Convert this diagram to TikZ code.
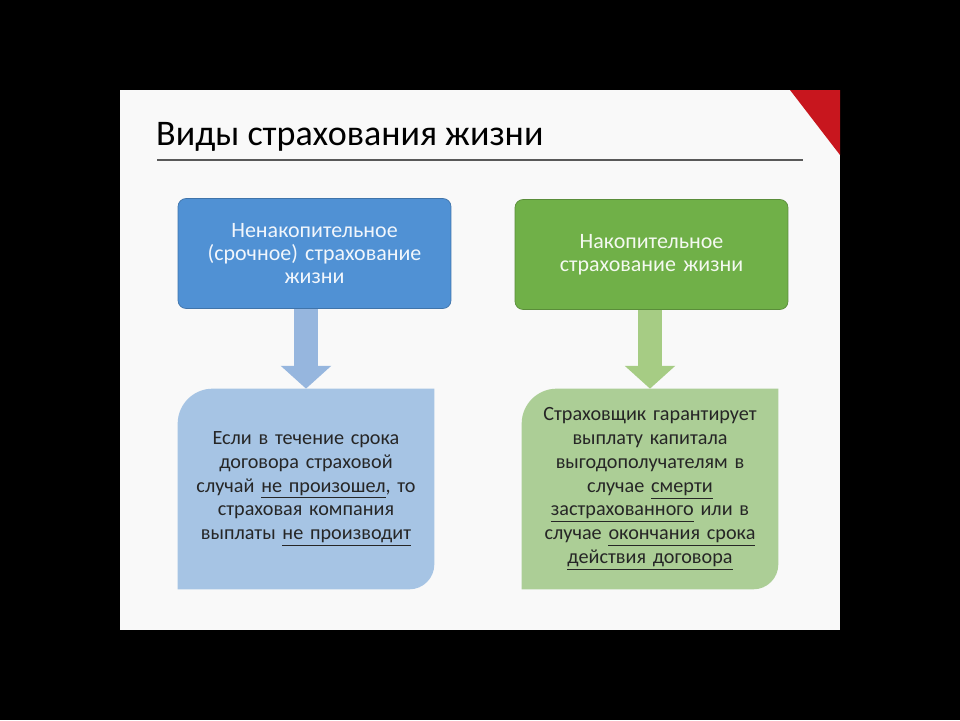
\documentclass[tikz,border=0pt]{standalone}
\usepackage{fontspec}
\setmainfont{Carlito}
\usetikzlibrary{arrows.meta,backgrounds}
\definecolor{hdrblue}{RGB}{80,145,212}
\definecolor{hdrgreen}{RGB}{112,176,72}
\definecolor{lowblue}{RGB}{166,196,228}
\definecolor{lowgreen}{RGB}{172,206,150}
\definecolor{arrblue}{RGB}{150,182,222}
\definecolor{arrgreen}{RGB}{166,204,132}
\definecolor{slidered}{RGB}{200,22,30}
\definecolor{slidebg}{RGB}{249,249,249}
\definecolor{textdark}{RGB}{38,38,38}
\begin{document}
\begin{tikzpicture}[
  % GLOBAL CFG
  x=0.02cm, y=-0.02cm,
  % Styles
  header/.style={% For the coloured top boxes
      rectangle,
      rounded corners=1.6mm,
      draw=#1!80!black,
      fill=#1,
      minimum width=5.46cm,
      minimum height=2.2cm,
      text width=5cm,
      align=center,
      text=white!92!#1,
      font=\fontsize{12.5}{13.2}\selectfont,
      },
  result/.style={% For the lower boxes, shape drawn behind
      rectangle,
      minimum width=5.12cm,
      minimum height=4cm,
      text width=4.6cm,
      align=center,
      text=textdark,
      font=\fontsize{11.5}{13.5}\selectfont,
      },
  flow/.style={% Fat block arrows
      line width=14pt,
      -{Triangle[width=28pt,length=13pt]},
      },
  ]

  % Slide
  \begin{scope}[on background layer]
    \fill[black] (0,0) rectangle (960,720);
    \fill[slidebg] (120,90) rectangle (840,630);
    \fill[slidered] (790,90) -- (840,90) -- (840,155) -- cycle;
  \end{scope}

  \node [anchor=base west, font=\fontsize{20.5}{24}\selectfont, text=black] (title) at (150,145) {Виды страхования жизни};
  \draw [black!65, line width=0.8pt] (157,160) -- (803,160);

  % Top boxes
  \node [header=hdrblue] (short) at (314.5,253.5) {Ненакопительное\\(срочное) страхование\\жизни};
  \node [header=hdrgreen] (saving) at (651.5,254.5) {Накопительное\\страхование жизни\\[0.6em]};

  % Lower boxes
  \node [result] (shortres) at (306,489) {Если в течение срока\\договора страховой\\случай \underline{не произошел}, то\\страховая компания\\выплаты \underline{не производит}};
  \node [result] (savingres) at (650,489) {Страховщик гарантирует\\выплату капитала\\выгодополучателям в\\случае \underline{смерти}\\\underline{застрахованного} или в\\случае \underline{окончания срока}\\\underline{действия договора}};

  \begin{scope}[on background layer]
    \fill[lowblue] (shortres.south west) [rounded corners=0.7cm] -- (shortres.north west) [sharp corners] -- (shortres.north east) [rounded corners=0.5cm] -- (shortres.south east) [sharp corners] -- cycle;
    \fill[lowgreen] (savingres.south west) [rounded corners=0.7cm] -- (savingres.north west) [sharp corners] -- (savingres.north east) [rounded corners=0.5cm] -- (savingres.south east) [sharp corners] -- cycle;
  \end{scope}

  % Arrows
  \draw [flow, arrblue] (shortres.north |- short.south) -- (shortres.north);
  \draw [flow, arrgreen] (savingres.north |- saving.south) -- (savingres.north);

\end{tikzpicture}
\end{document}
